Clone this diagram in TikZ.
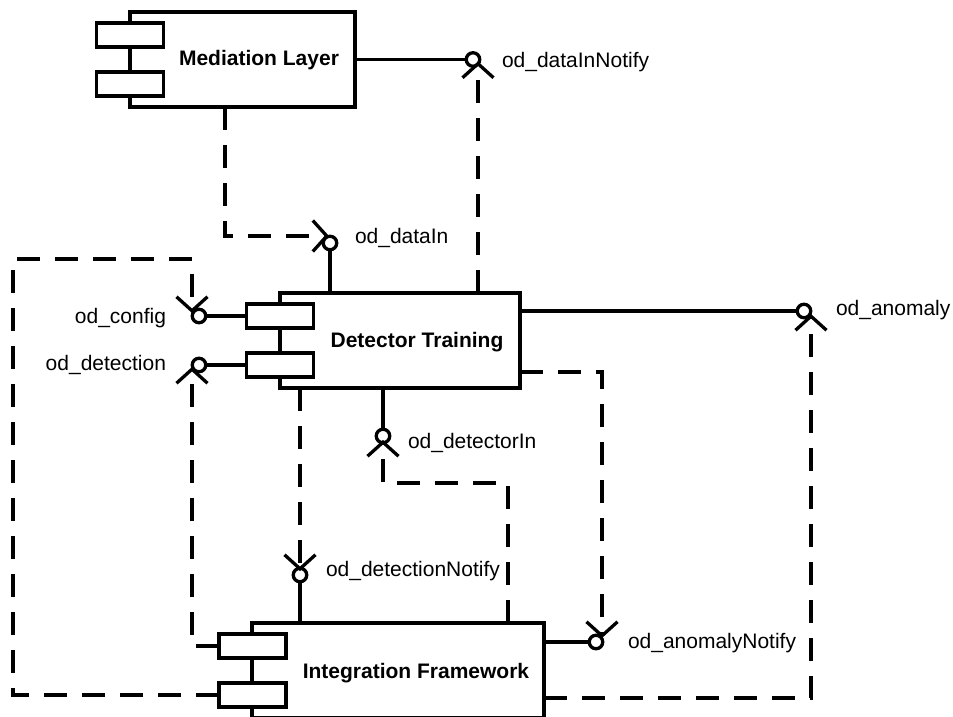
\documentclass[tikz,border=0pt]{standalone}
\usepackage{fontspec}
\setmainfont{Liberation Sans}
\usetikzlibrary{arrows.meta}
\begin{document}
\begin{tikzpicture}[x=1pt,y=-1pt,
  every node/.style={inner sep=0pt, outer sep=0pt},
  box/.style={draw, line width=3.3pt, rectangle, fill=white, minimum height=95pt},
  port/.style={draw, line width=3.3pt, rectangle, fill=white, minimum width=67pt, minimum height=24pt},
  ball/.style={draw, line width=3.3pt, circle, minimum size=13.5pt},
  title/.style={font=\fontsize{21}{25}\selectfont\bfseries, anchor=base},
  lbl/.style={font=\fontsize{21}{25}\selectfont},
  conn/.style={line width=3.3pt},
  deps/.style={line width=3.3pt, dash pattern=on 23pt off 15pt},
  dep/.style={deps, -{Straight Barb[length=14pt,width=31pt]}}
]
\useasboundingbox (0,0) rectangle (953,717);
\clip (0,0) rectangle (953,717);

% Mediation Layer
\node[box, minimum width=225pt] (ml) at (242.5,59.5) {};
\node[port] (mlp1) at (130,35) {};
\node[port] (mlp2) at (130,84) {};
\node[title] (mlt) at (259,66) {Mediation Layer};

% Detector Training
\node[box, minimum width=240pt] (dt) at (400,340.5) {};
\node[port] (dtp1) at (280,316) {};
\node[port] (dtp2) at (280,365) {};
\node[title] (dtt) at (417,347) {Detector Training};

% Integration Framework
\node[box, minimum width=292pt] (ifw) at (398,670.5) {};
\node[port] (ifp1) at (252.5,646) {};
\node[port] (ifp2) at (252.5,695) {};
\node[title] (ift) at (416,678) {Integration Framework};

% interfaces
\node[ball] (dinn) at (473,59.5) {};
\node[ball] (din) at (330,243) {};
\node[ball] (cfg) at (199,316) {};
\node[ball] (det) at (199,365) {};
\node[ball] (anom) at (804,311) {};
\node[ball] (detin) at (383,436) {};
\node[ball] (detn) at (300,575) {};
\node[ball] (anomn) at (596,642) {};

% labels
\node[lbl, anchor=base west] (ldinn) at (502,67) {od\_dataInNotify};
\node[lbl, anchor=base west] (ldin) at (355,243) {od\_dataIn};
\node[lbl, anchor=base east] (lcfg) at (166,323) {od\_config};
\node[lbl, anchor=base east] (ldet) at (166,370) {od\_detection};
\node[lbl, anchor=base west] (lanom) at (836,315) {od\_anomaly};
\node[lbl, anchor=base west] (ldetin) at (408,448) {od\_detectorIn};
\node[lbl, anchor=base west] (ldetn) at (326,576) {od\_detectionNotify};
\node[lbl, anchor=base west] (lanomn) at (628,648) {od\_anomalyNotify};

\coordinate (cfgturn) at (13,259);

% solid connectors
\draw[conn] (ml.east) -- (dinn);
\draw[conn] (din) -- (din |- dt.north);
\draw[conn] (anom -| dt.east) -- (anom);
\draw[conn] (cfg) -- (dtp1.west);
\draw[conn] (det) -- (dtp2.west);
\draw[conn] (detin |- dt.south) -- (detin);
\draw[conn] (detn) -- (detn |- ifw.north);
\draw[conn] (anomn -| ifw.east) -- (anomn);

% dashed dependencies
\draw[dep] ([xshift=78pt]dt.north) -- ([xshift=5pt,yshift=-2pt]dinn.center);
\draw[dep] ([xshift=-17.5pt]ml.south) |- ([xshift=-1pt,yshift=7pt]din.center);
\draw[dep] ([yshift=-27.5pt]ifw.east) -| ([xshift=7pt,yshift=-3pt]anom.center);
\draw[dep] (ifp2.west) -| (cfgturn) -| ([xshift=-7pt,yshift=3pt]cfg.center);
\draw[dep] (ifp1.west) -| ([xshift=-7pt,yshift=-2pt]det.center);
\draw[dep] ([xshift=110pt]ifw.north) -- ++(0,-140) -| ([yshift=-4pt]detin.center);
\draw[dep] ([xshift=-100pt]dt.south) -- ([yshift=4pt]detn.center);
\draw[dep] ([yshift=-31.5pt]dt.east) -| ([xshift=6pt,yshift=4pt]anomn.center);
\end{tikzpicture}
\end{document}
